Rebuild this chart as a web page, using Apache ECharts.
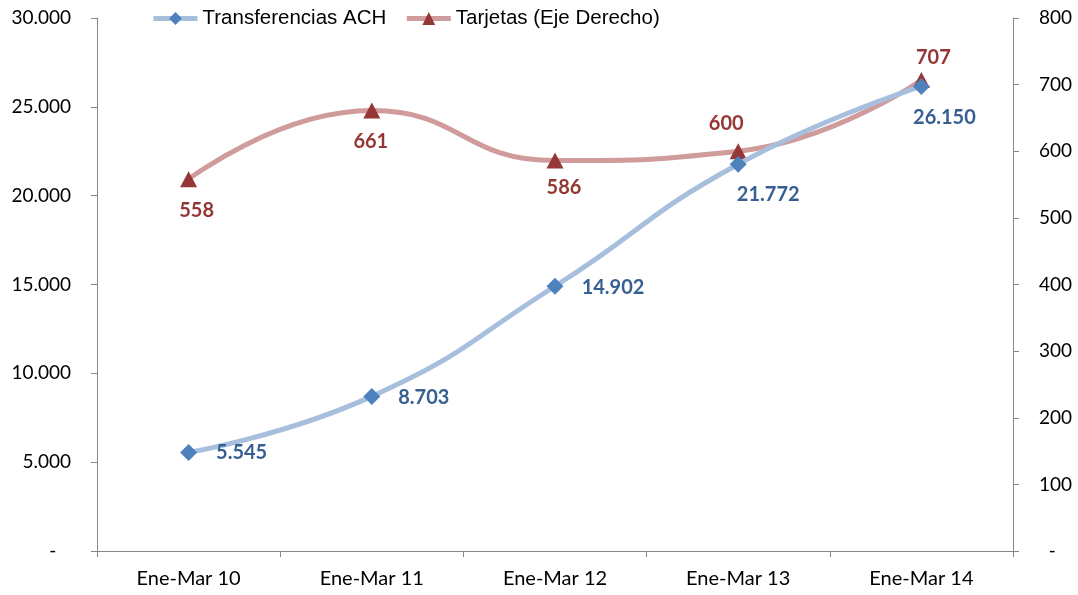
<!DOCTYPE html>
<html><head><meta charset="utf-8">
<script src="https://cdn.jsdelivr.net/npm/echarts@6/dist/echarts.min.js"></script>
<style>html,body{margin:0;padding:0;background:#fff}#c{width:1078px;height:595px}</style>
</head><body><div id="c"></div>
<script>
const categories = ['Ene-Mar 10','Ene-Mar 11','Ene-Mar 12','Ene-Mar 13','Ene-Mar 14'];
const achValues = [5545, 8703, 14902, 21772, 26150];
const tarjetasValues = [558, 661, 586, 600, 707];
const achLabelOffsets = [[53,0],[52,1],[58,1],[30,30],[23,31]];
const tarjLabelOffsets = [[8,31],[-1,31],[9,27],[-12,-28],[12,-22]];

function fmtThousands(v){
  if (v === 0) return '-';
  return String(v).replace(/\B(?=(\d{3})+(?!\d))/g, '.');
}
const calib = 'Lato, "Open Sans", sans-serif';
const chart = echarts.init(document.getElementById('c'));
chart.setOption({
  animation:false,
  legend:{
    top:3, left:146, itemGap:18, itemWidth:44, itemHeight:16,
    lineStyle:{width:5},
    textStyle:{fontFamily:'"Liberation Sans", Arial, sans-serif', fontSize:20.5, color:'#000'},
    data:['Transferencias ACH','Tarjetas (Eje Derecho)']
  },
  grid:{left:97, right:65, top:18, bottom:44},
  xAxis:{
    type:'category', data:categories, boundaryGap:true,
    axisLine:{lineStyle:{color:'#868686'}},
    axisTick:{show:true, length:6, lineStyle:{color:'#868686'}},
    axisLabel:{fontFamily:calib, fontSize:20, color:'#000', margin:18}
  },
  yAxis:[{
    type:'value', min:0, max:30000, interval:5000, position:'left',
    axisLine:{show:true, lineStyle:{color:'#868686'}},
    axisTick:{show:true, length:6, lineStyle:{color:'#868686'}},
    splitLine:{show:false},
    axisLabel:{fontFamily:calib, fontSize:19, color:'#000', margin:26, formatter:v=> v===0?'-   ':fmtThousands(v)}
  },{
    type:'value', min:0, max:800, interval:100, position:'right',
    axisLine:{show:true, lineStyle:{color:'#868686'}},
    axisTick:{show:true, length:6, lineStyle:{color:'#868686'}},
    splitLine:{show:false},
    axisLabel:{fontFamily:calib, fontSize:19, color:'#000', margin:26, formatter:v=> v===0?'  -':String(v)}
  }],
  series:[{
    name:'Tarjetas (Eje Derecho)', type:'line', yAxisIndex:1, smooth:0.5,
    symbol:'triangle', symbolSize:[17,16],
    lineStyle:{color:'#d09b9b', width:5},
    itemStyle:{color:'#953735'},
    data: tarjetasValues.map((v,i)=>({value:v, label:{show:true, position:'inside', offset:tarjLabelOffsets[i],
      formatter:String(v), color:'#953735', fontFamily:calib, fontWeight:'bold', fontSize:20}})),
    z:2
  },{
    name:'Transferencias ACH', type:'line', yAxisIndex:0, smooth:0.5,
    symbol:'diamond', symbolSize:[17,17],
    lineStyle:{color:'#a7bfdd', width:5},
    itemStyle:{color:'#4f81bd'},
    data: achValues.map((v,i)=>({value:v, label:{show:true, position:'inside', offset:achLabelOffsets[i],
      formatter:fmtThousands(v), color:'#376092', fontFamily:calib, fontWeight:'bold', fontSize:20}})),
    z:3
  }]
});
</script></body></html>
